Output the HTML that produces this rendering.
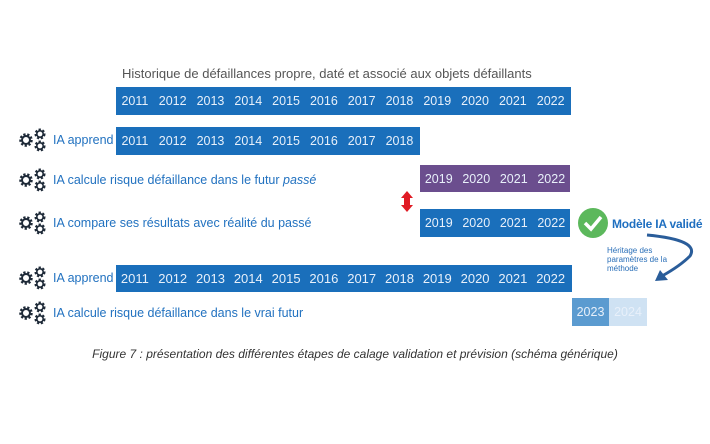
<!DOCTYPE html>
<html><head><meta charset="utf-8"><style>
body{margin:0;width:710px;height:444px;background:#fff;position:relative;overflow:hidden;font-family:"Liberation Sans",sans-serif}
.bar{position:absolute;display:flex;color:#e8f0fa;font-size:12.5px;align-items:center}
.bar span{display:inline-block;width:37.8px;text-align:center}
.lab{position:absolute;left:53px;color:#2272c0;font-size:12.5px;white-space:nowrap}
</style></head><body>
<div style="position:absolute;left:122px;top:66px;font-size:13px;color:#555">Historique de défaillances propre, daté et associé aux objets défaillants</div>
<div class="bar" style="left:116px;top:87px;width:455px;height:28px;background:#1a6fbb"><span>2011</span><span>2012</span><span>2013</span><span>2014</span><span>2015</span><span>2016</span><span>2017</span><span>2018</span><span>2019</span><span>2020</span><span>2021</span><span>2022</span></div>
<div class="bar" style="left:116px;top:127px;width:304px;height:28px;background:#1a6fbb"><span>2011</span><span>2012</span><span>2013</span><span>2014</span><span>2015</span><span>2016</span><span>2017</span><span>2018</span></div>
<div class="bar" style="left:420px;top:165px;width:150px;height:27px;background:#6b4e8e"><span>2019</span><span>2020</span><span>2021</span><span>2022</span></div>
<div class="bar" style="left:420px;top:209px;width:150px;height:28px;background:#1a6fbb"><span>2019</span><span>2020</span><span>2021</span><span>2022</span></div>
<div class="bar" style="left:116px;top:265px;width:456px;height:27px;background:#1a6fbb;font-size:13px"><span>2011</span><span>2012</span><span>2013</span><span>2014</span><span>2015</span><span>2016</span><span>2017</span><span>2018</span><span>2019</span><span>2020</span><span>2021</span><span>2022</span></div>
<div class="bar" style="left:572px;top:298px;width:37px;height:28px;background:#5b9bd0"><span style="width:37px">2023</span></div>
<div class="bar" style="left:609px;top:298px;width:38px;height:28px;background:#cfe2f3"><span style="width:38px">2024</span></div>

<svg width="710" height="444" style="position:absolute;left:0;top:0">
<defs><g id="gear"><g fill="none" stroke="#1e2a38">
<circle cx="8" cy="10" r="5" stroke-width="3.5" stroke-dasharray="2 1.5"/><circle cx="8" cy="10" r="4" stroke-width="2"/>
<circle cx="22" cy="4" r="4" stroke-width="3" stroke-dasharray="2 1.5"/><circle cx="22" cy="4" r="3.2" stroke-width="1.6"/>
<circle cx="22" cy="16" r="4" stroke-width="3" stroke-dasharray="2 1.5"/><circle cx="22" cy="16" r="3.2" stroke-width="1.6"/></g></g></defs>
<use href="#gear" x="18" y="130"/><use href="#gear" x="18" y="170"/><use href="#gear" x="18" y="213"/><use href="#gear" x="18" y="268"/><use href="#gear" x="18" y="303"/>
<polygon points="407,191 401,198 404,198 404,205 401,205 407,212 413,205 410,205 410,198 413,198" fill="#e01b24"/>
<circle cx="593" cy="223" r="15" fill="#5cb85c"/>
<polyline points="585,223 591,229 601,217" fill="none" stroke="#fff" stroke-width="3.5"/>
<path d="M647,235 Q700,240 690,256 Q680,266 662,276" fill="none" stroke="#2a5d9a" stroke-width="3"/>
<polygon points="655,281 668,280 660,270" fill="#2a5d9a"/>
</svg>
<div class="lab" style="top:133px">IA apprend</div>
<div class="lab" style="top:173px">IA calcule risque défaillance dans le futur <i>passé</i></div>
<div class="lab" style="top:216px">IA compare ses résultats avec réalité du passé</div>
<div class="lab" style="top:271px">IA apprend</div>
<div class="lab" style="top:306px">IA calcule risque défaillance dans le vrai futur</div>
<div style="position:absolute;left:612px;top:217px;color:#1f6fc0;font-size:12px;font-weight:bold;white-space:nowrap;letter-spacing:-0.2px">Modèle IA validé</div>
<div style="position:absolute;left:607px;top:246px;color:#2a6fb8;font-size:8px;line-height:9px">Héritage des<br>paramètres de la<br>méthode</div>
<div style="position:absolute;left:0;width:710px;top:347px;text-align:center;font-size:12px;font-style:italic;color:#333">Figure 7 : présentation des différentes étapes de calage validation et prévision (schéma générique)</div>
</body></html>
